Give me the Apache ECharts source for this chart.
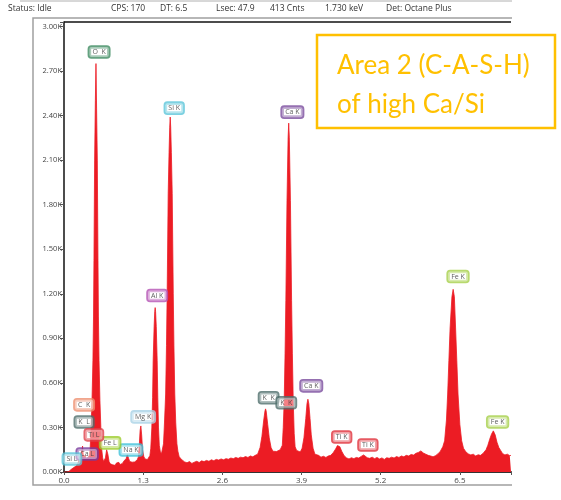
<!DOCTYPE html>
<html><head><meta charset="utf-8">
<script src="https://cdn.jsdelivr.net/npm/echarts@6/dist/echarts.min.js"></script>
<style>html,body{margin:0;padding:0;background:#fff}#c{width:561px;height:500px}</style>
</head><body><div id="c"></div>
<script>
// EDS spectrum: [energy keV, counts]
const spectrum = [
[0.00,0],[0.04,0],[0.08,4],[0.10,12],[0.12,18],[0.14,22],[0.16,30],[0.18,28],[0.20,40],[0.22,48],[0.24,70],[0.26,105],[0.28,130],[0.295,150],[0.305,175],[0.315,120],[0.33,95],[0.345,112],[0.36,88],[0.38,92],[0.40,100],[0.42,115],
[0.43,160],[0.445,300],[0.46,480],[0.475,750],[0.485,1050],[0.492,1424],[0.503,2100],[0.515,2500],[0.525,2750],[0.535,2450],[0.547,2100],[0.558,1424],[0.565,1050],[0.575,750],[0.59,480],[0.605,300],[0.62,150],[0.635,95],[0.65,70],
[0.66,62],[0.68,95],[0.70,150],[0.72,120],[0.74,70],[0.76,55],[0.78,62],[0.80,48],[0.82,58],[0.84,45],[0.86,60],[0.88,52],[0.90,65],[0.92,50],[0.94,62],[0.96,58],[0.98,72],[1.00,65],[1.02,90],[1.04,118],[1.06,92],[1.08,70],[1.10,58],[1.12,66],[1.14,55],[1.16,68],[1.18,62],[1.20,80],
[1.22,100],[1.235,170],[1.25,280],[1.262,310],[1.275,250],[1.29,150],[1.31,105],[1.33,88],[1.35,92],[1.37,84],[1.39,95],[1.41,110],
[1.425,160],[1.442,297],[1.455,500],[1.464,750],[1.48,980],[1.49,1080],[1.497,1107],[1.504,1080],[1.515,980],[1.53,750],[1.54,500],[1.552,297],[1.565,180],[1.58,140],[1.60,122],[1.62,135],
[1.634,190],[1.65,330],[1.669,525],[1.683,850],[1.694,1200],[1.711,1876],[1.725,2150],[1.736,2322],[1.744,2390],[1.752,2322],[1.763,2150],[1.777,1876],[1.794,1200],[1.805,850],[1.819,525],[1.835,330],[1.854,190],[1.87,140],[1.89,105],[1.92,88],[1.95,75],[1.98,68],
[2.02,62],[2.06,70],[2.10,58],[2.14,66],[2.18,72],[2.22,64],[2.26,75],[2.30,70],[2.34,78],[2.38,72],[2.42,82],[2.46,76],[2.50,85],[2.54,80],[2.58,88],[2.62,82],[2.66,90],[2.70,86],[2.74,94],[2.78,90],[2.82,98],[2.86,92],[2.90,100],[2.94,96],[2.98,104],[3.02,98],[3.06,108],[3.10,102],[3.14,112],
[3.18,120],[3.22,165],[3.25,240],[3.28,350],[3.30,410],[3.31,425],[3.32,410],[3.345,320],[3.37,230],[3.40,165],[3.43,140],[3.46,132],[3.49,138],[3.52,145],[3.55,150],
[3.585,180],[3.60,300],[3.616,479],[3.63,800],[3.643,1154],[3.662,1829],[3.68,2250],[3.69,2349],[3.70,2250],[3.718,1829],[3.737,1154],[3.75,800],[3.764,479],[3.78,260],[3.795,170],[3.82,145],[3.85,138],[3.88,135],
[3.91,160],[3.94,230],[3.97,360],[3.99,460],[4.005,490],[4.02,460],[4.04,360],[4.06,250],[4.09,160],[4.12,120],[4.15,108],
[4.18,112],[4.22,100],[4.26,106],[4.30,98],[4.34,108],[4.38,112],
[4.42,130],[4.46,155],[4.49,178],[4.51,185],[4.53,170],[4.56,140],[4.60,110],[4.64,95],[4.68,88],[4.72,96],[4.76,90],[4.80,98],[4.84,94],[4.88,105],[4.92,115],[4.95,108],[4.98,96],[5.02,92],[5.06,100],[5.10,90],[5.14,98],[5.18,88],[5.22,95],[5.26,85],[5.30,96],[5.34,92],[5.38,100],[5.42,94],[5.46,104],[5.50,98],[5.54,108],[5.58,102],[5.62,112],[5.66,108],[5.70,118],[5.74,114],[5.78,126],[5.82,132],[5.86,142],[5.90,128],[5.94,120],[5.98,112],[6.02,108],[6.06,102],[6.10,110],[6.14,122],
[6.18,140],[6.22,170],[6.25,210],[6.28,350],[6.30,525],[6.32,750],[6.34,970],[6.37,1180],[6.39,1230],[6.41,1180],[6.43,970],[6.45,750],[6.47,525],[6.50,320],[6.53,210],[6.56,160],[6.60,135],[6.64,122],[6.68,115],[6.72,120],[6.76,108],[6.80,116],[6.84,112],[6.88,125],
[6.93,150],[6.96,180],[6.99,220],[7.02,255],[7.05,277],[7.08,250],[7.11,200],[7.14,165],[7.17,145],[7.20,125],[7.24,115],[7.28,120],[7.32,110],[7.34,112]
];

// Peak labels
const peakNames  = ['O  K','Si K','Al K','Ca K','Fe K','K  K','K  K','Ca K','Ti K','Ti K','Fe K','Mg K','Na K','Fe L','C  K','K  L','Ti L','Ca L','Si L'];
const peakKeV    = [0.576,1.81,1.53,3.75,6.47,3.36,3.65,4.06,4.56,4.99,7.12,1.30,1.10,0.757,0.33,0.33,0.49,0.38,0.13];
const peakCounts = [2828,2450,1188,2423,1316,500,466,580,236,182,337,371,148,196,452,337,250,121,88];
const peakColors = ['#3d8b60','#5cc6da','#b452b4','#7a4c9e','#a6cf4a','#4f6e6c','#4f6e6c','#7a4c9e','#e0303a','#e0303a','#a6cf4a','#a9d2e6','#3fc2da','#9ccc2c','#ee9070','#4f6e6c','#e0404a','#7a3c9e','#5cc6da'];

const xTickLabels = ['0.0','1.3','2.6','3.9','5.2','6.5'];
const yTickLabels = ['0.00K','0.30K','0.60K','0.90K','1.20K','1.50K','1.80K','2.10K','2.40K','2.70K','3.00K'];
const xStep = 1.3, yStep = 300;

const statusTexts = ['Status: Idle','CPS: 170','DT: 6.5','Lsec: 47.9','413 Cnts','1.730 keV','Det: Octane Plus'];
const statusX = [8,111,160,216,270,325,386];
const noteLines = ['Area 2 (C-A-S-H)','of high Ca/Si'];

const chart = echarts.init(document.getElementById('c'), null, {renderer:'canvas'});
const FONT = 'Open Sans';

const graphics = [
  {type:'line', shape:{x1:20,y1:1,x2:512,y2:1}, style:{stroke:'#b0b0b0',lineWidth:1}},
  {type:'polyline', shape:{points:[[512,18],[33,18],[33,485],[512,485]]}, style:{stroke:'#a0a0a0',lineWidth:1.5,fill:null}},
  {type:'line', shape:{x1:64,y1:22,x2:511,y2:22}, style:{stroke:'#111',lineWidth:1.5}, z:10},
  {type:'rect', shape:{x:317,y:35,width:238,height:93}, style:{stroke:'#FFC000',lineWidth:2.5,fill:'#fff'}, z:20},
  {type:'text', left:337, top:53, style:{text:noteLines[0], fill:'#FFC000', font:'26px Lato'}, z:21},
  {type:'text', left:337, top:92, style:{text:noteLines[1], fill:'#FFC000', font:'26px Lato'}, z:21}
];
statusTexts.forEach((t,i)=>graphics.push({type:'text', left:statusX[i], top:4, style:{text:t, fill:'#333', font:'8.5px "Open Sans"'}}));

const labelData = peakNames.map((n,i)=>({
  value:[peakKeV[i], peakCounts[i]],
  name:n,
  label:{show:true, position:'inside', formatter:n, color:'#333', fontSize:7, fontFamily:FONT,
    backgroundColor:'rgba(255,255,255,0.55)', borderColor:peakColors[i], borderWidth:1.8, borderRadius:2, padding:[2,3,1,3]}
}));

chart.setOption({
  animation:false,
  backgroundColor:'#fff',
  grid:{left:64, right:50, top:22, bottom:28},
  xAxis:{type:'value', min:0, max:7.34, interval:xStep,
    axisLine:{show:true, lineStyle:{color:'#333', width:2}},
    axisTick:{show:true, length:3, lineStyle:{color:'#555'}},
    splitLine:{show:false},
    axisLabel:{fontSize:8, color:'#444', fontFamily:FONT, margin:5,
      formatter:v=>{const i=Math.round(v/xStep); return Math.abs(v-i*xStep)<1e-6 && xTickLabels[i]!==undefined ? xTickLabels[i] : '';}}
  },
  yAxis:{type:'value', min:0, max:3030, interval:yStep,
    axisLine:{show:true, lineStyle:{color:'#111', width:1.5}},
    axisTick:{show:true, length:4, lineStyle:{color:'#555'}},
    splitLine:{show:false},
    axisLabel:{fontSize:7.5, color:'#444', fontFamily:FONT, margin:2,
      formatter:v=>{const i=Math.round(v/yStep); return Math.abs(v-i*yStep)<1e-6 && yTickLabels[i]!==undefined ? yTickLabels[i] : '';}}
  },
  series:[
    {type:'line', data:spectrum, showSymbol:false, symbol:'none', sampling:null,
     lineStyle:{color:'#ec1c24', width:0.8}, areaStyle:{color:'#ec1c24', opacity:1}, z:2},
    {type:'scatter', data:labelData, symbolSize:1, itemStyle:{color:'rgba(0,0,0,0)'}, z:5, silent:true}
  ],
  graphic:graphics
});
</script></body></html>
